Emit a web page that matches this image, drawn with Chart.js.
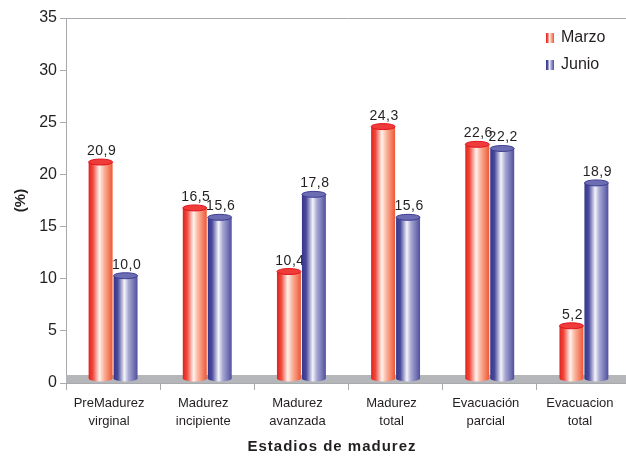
<!DOCTYPE html>
<html>
<head>
<meta charset="utf-8">
<script src="https://cdn.jsdelivr.net/npm/chart.js@4/dist/chart.umd.min.js"></script>
<style>
  html, body { margin: 0; padding: 0; background: #fff; overflow: hidden; }
  #wrap { width: 631px; height: 458px; }
</style>
</head>
<body>
<div id="wrap"><canvas id="estadiosChart"></canvas></div>
<script>
const categorias = [
    ['PreMadurez', 'virginal'],
    ['Madurez', 'incipiente'],
    ['Madurez', 'avanzada'],
    ['Madurez', 'total'],
    ['Evacuación', 'parcial'],
    ['Evacuacion', 'total']
];
const marzo = [20.9, 16.5, 10.4, 24.3, 22.6, 5.2];
const junio = [10.0, 15.6, 17.8, 15.6, 22.2, 18.9];
const yTicks = [0, 5, 10, 15, 20, 25, 30, 35];
const tituloX = 'Estadios de madurez';

const FONT = '"Liberation Sans", Arial, Helvetica, sans-serif';
const TEXT = '#231f20';
const AXIS = '#a7a9ac';

// colour schemes for the cylinders: body gradient stops + top cap
const palettes = {
    red: {
        stops: [[0, '#e3201f'], [0.18, '#ef4a3c'], [0.45, '#fff3ee'], [0.62, '#fbb9a2'], [1, '#ee5634']],
        cap: '#f03b3b', capEdge: '#e0141c'
    },
    blue: {
        stops: [[0, '#35358a'], [0.18, '#4b4b9d'], [0.45, '#f4f4fb'], [0.62, '#a9a9d3'], [1, '#4f4f9f']],
        cap: '#6c6cb3', capEdge: '#3e3e92'
    }
};

function bodyGradient(ctx, x0, x1, pal) {
    const g = ctx.createLinearGradient(x0, 0, x1, 0);
    pal.stops.forEach(s => g.addColorStop(s[0], s[1]));
    return g;
}

// gray floor the cylinders stand on + frame line at the top
const floorPlugin = {
    id: 'floor',
    beforeDatasetsDraw(chart) {
        const { ctx, chartArea } = chart;
        const y0 = chart.scales.y.getPixelForValue(0);
        ctx.save();
        ctx.fillStyle = '#b5b6b9';
        ctx.fillRect(chartArea.left, y0 - 8, chartArea.right - chartArea.left, 8);
        ctx.strokeStyle = AXIS;
        ctx.lineWidth = 1;
        ctx.beginPath();
        ctx.moveTo(chartArea.left, chartArea.top + 0.5);
        ctx.lineTo(chartArea.right, chartArea.top + 0.5);
        ctx.stroke();
        ctx.restore();
    }
};

// draws each bar as a shaded cylinder with its value on top
const cylinderPlugin = {
    id: 'cylinders',
    afterDatasetsDraw(chart) {
        const ctx = chart.ctx;
        chart.data.datasets.forEach((ds, i) => {
            const pal = palettes[ds.paleta];
            chart.getDatasetMeta(i).data.forEach((bar, j) => {
                const p = bar.getProps(['x', 'y', 'base', 'width'], true);
                const x0 = p.x - p.width / 2, x1 = p.x + p.width / 2;
                const rx = p.width / 2, ry = 3;
                const top = p.y - 3;
                const bottom = p.base - 4;
                ctx.save();
                // body with rounded bottom
                ctx.fillStyle = bodyGradient(ctx, x0, x1, pal);
                ctx.beginPath();
                ctx.moveTo(x0, top);
                ctx.lineTo(x0, bottom);
                ctx.ellipse(p.x, bottom, rx, ry, 0, Math.PI, 0, true);
                ctx.lineTo(x1, top);
                ctx.closePath();
                ctx.fill();
                // top cap
                ctx.beginPath();
                ctx.ellipse(p.x, top, rx, ry, 0, 0, Math.PI * 2);
                ctx.fillStyle = pal.cap;
                ctx.fill();
                ctx.strokeStyle = pal.capEdge;
                ctx.lineWidth = 1;
                ctx.stroke();
                // value label
                ctx.fillStyle = TEXT;
                ctx.font = '14px ' + FONT;
                ctx.letterSpacing = '0.5px';
                ctx.textAlign = 'center';
                ctx.textBaseline = 'alphabetic';
                ctx.fillText(ds.data[j].toFixed(1).replace('.', ','), p.x + 1, top - ry - 4);
                ctx.restore();
            });
        });
    }
};

// legend in the upper right corner and the x axis title
const legendPlugin = {
    id: 'leyenda',
    afterDraw(chart) {
        const ctx = chart.ctx;
        chart.data.datasets.forEach((ds, i) => {
            const pal = palettes[ds.paleta];
            const sx = 546, sy = 33 + i * 27;
            ctx.save();
            ctx.fillStyle = bodyGradient(ctx, sx, sx + 8, pal);
            ctx.fillRect(sx, sy, 8, 10);
            ctx.fillStyle = TEXT;
            ctx.font = '16px ' + FONT;
            ctx.textAlign = 'left';
            ctx.textBaseline = 'middle';
            ctx.fillText(ds.label, 561, sy + 5);
            ctx.restore();
        });
        ctx.save();
        ctx.fillStyle = TEXT;
        ctx.font = 'bold 15px ' + FONT;
        ctx.letterSpacing = '1px';
        ctx.textAlign = 'center';
        ctx.textBaseline = 'middle';
        ctx.fillText(tituloX, 332, 447);
        ctx.restore();
    }
};

new Chart(document.getElementById('estadiosChart'), {
    type: 'bar',
    data: {
        labels: categorias,
        datasets: [
            { label: 'Marzo', data: marzo, paleta: 'red', backgroundColor: 'rgba(0,0,0,0)', borderWidth: 0 },
            { label: 'Junio', data: junio, paleta: 'blue', backgroundColor: 'rgba(0,0,0,0)', borderWidth: 0 }
        ]
    },
    options: {
        responsive: true,
        maintainAspectRatio: false,
        animation: false,
        events: [],
        categoryPercentage: 0.53,
        barPercentage: 0.96,
        layout: { padding: { top: 18, right: 0, left: 0, bottom: 0 } },
        plugins: {
            legend: { display: false },
            tooltip: { enabled: false }
        },
        scales: {
            x: {
                grid: {
                    offset: true, drawOnChartArea: false, drawTicks: true,
                    tickLength: 7, color: AXIS
                },
                border: { color: AXIS },
                ticks: {
                    color: TEXT, padding: 5, labelOffset: -4,
                    font: { family: FONT, size: 13, lineHeight: 1.35 },
                    maxRotation: 0
                },
                afterFit(scale) { scale.height = 75; }
            },
            y: {
                min: 0, max: 35,
                afterBuildTicks(scale) { scale.ticks = yTicks.map(v => ({ value: v })); },
                grid: { drawOnChartArea: false, drawTicks: true, tickLength: 6, color: AXIS },
                border: { color: AXIS },
                ticks: {
                    color: TEXT, padding: 3,
                    font: { family: FONT, size: 16 }
                },
                title: {
                    display: true, text: '(%)', color: TEXT,
                    font: { family: FONT, size: 15, weight: 'bold' },
                    padding: { top: 12, bottom: 0 }
                },
                afterFit(scale) { scale.width = 66; }
            }
        }
    },
    plugins: [floorPlugin, cylinderPlugin, legendPlugin]
});
</script>
</body>
</html>
